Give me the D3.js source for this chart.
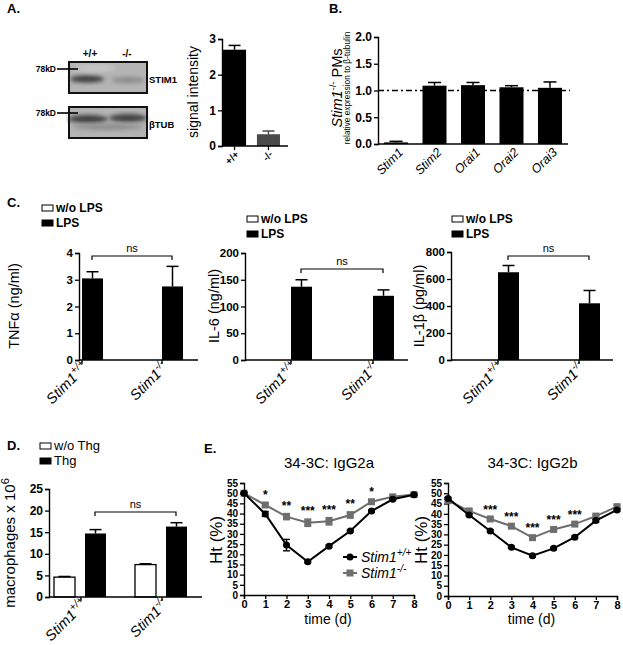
<!DOCTYPE html>
<html><head><meta charset="utf-8">
<script src="https://cdn.jsdelivr.net/npm/d3@7"></script>
<style>
body{margin:0;background:#fff;}
svg text{font-family:"Liberation Sans",Arial,sans-serif;fill:#000;}
</style></head><body>
<svg id="c" width="623" height="645" xmlns="http://www.w3.org/2000/svg"></svg>
<script>
// ---------------- DATA ----------------
const blotLanes = ["+/+", "-/-"];
const signalIntensity = [2.7, 0.33];
const signalErr = [0.12, 0.09];

const genes = ["Stim1", "Stim2", "Orai1", "Orai2", "Orai3"];
const geneExpr = [0.03, 1.09, 1.10, 1.06, 1.05];
const geneErr = [0.02, 0.06, 0.05, 0.03, 0.11];
const geneRef = 1.0;

const genotypes = ["+/+", "-/-"];
const tnfNoLPS = [0, 0];
const tnfLPS = [3.05, 2.75];
const tnfErr = [0.25, 0.75];
const il6NoLPS = [0, 0];
const il6LPS = [137, 120];
const il6Err = [13, 11];
const il1bNoLPS = [0, 0];
const il1bLPS = [650, 420];
const il1bErr = [50, 95];

const macroNoThg = [4.6, 7.5];
const macroNoThgErr = [0.15, 0.2];
const macroThg = [14.7, 16.3];
const macroThgErr = [0.9, 0.9];

const days = [0, 1, 2, 3, 4, 5, 6, 7, 8];
const igg2aWT = [50, 39.8, 24.5, 16.3, 24, 31.4, 41.2, 47, 49.2];
const igg2aWTErr = [0.4, 1.2, 2.8, 0.5, 0.5, 0.5, 0.5, 0.5, 0.4];
const igg2aKO = [50, 44.2, 38.5, 35.5, 36.2, 39.3, 45.8, 48.2, 49.3];
const igg2aKOErr = [0.5, 1.0, 1.5, 1.8, 1.8, 1.5, 1.0, 0.6, 0.5];
const igg2aStars = ["", "*", "**", "***", "***", "**", "*", "", ""];

const igg2bWT = [47.5, 39.4, 31.6, 23.7, 19.6, 23.2, 28.6, 36.7, 41.9];
const igg2bWTErr = [0.5, 0.6, 0.6, 0.6, 0.6, 0.6, 0.6, 0.6, 0.6];
const igg2bKO = [46.4, 41.4, 37.5, 34, 28.4, 32.4, 35, 38.9, 43.5];
const igg2bKOErr = [0.6, 0.6, 0.6, 0.6, 0.6, 0.6, 0.6, 0.6, 0.6];
const igg2bStars = ["", "", "***", "***", "***", "***", "***", "", ""];

const htTicks = [0, 5, 10, 15, 20, 25, 30, 35, 40, 45, 50, 55];

// ---------------- HELPERS ----------------
const svg = d3.select("#c");
const defs = svg.append("defs");
defs.append("filter").attr("id", "blur").attr("x", "-20%").attr("y", "-50%").attr("width", "140%").attr("height", "200%")
  .append("feGaussianBlur").attr("stdDeviation", 2.2);

function yAxis(x, scale, ticks, fmt, fs) {
  const g = svg.append("g").attr("transform", `translate(${x},0)`)
    .call(d3.axisLeft(scale).tickValues(ticks).tickSize(4).tickPadding(2).tickFormat(fmt || d3.format("")));
  g.select(".domain").attr("stroke", "#000").attr("stroke-width", 1.4);
  g.selectAll(".tick line").attr("stroke", "#000").attr("stroke-width", 1.3);
  g.selectAll(".tick text").attr("font-size", fs || 12).attr("font-weight", "bold")
    .attr("font-family", '"Liberation Sans",Arial,sans-serif').attr("fill", "#000");
  return g;
}
function xBase(x0, x1, y) {
  svg.append("line").attr("x1", x0).attr("x2", x1).attr("y1", y).attr("y2", y)
    .attr("stroke", "#000").attr("stroke-width", 1.4);
}
function xTick(x, y) {
  svg.append("line").attr("x1", x).attr("x2", x).attr("y1", y).attr("y2", y + 4)
    .attr("stroke", "#000").attr("stroke-width", 1.3);
}
function errUp(cx, yTop, yErr, cap, color) {
  const g = svg.append("g").attr("stroke", color || "#000").attr("stroke-width", 1.5);
  g.append("line").attr("x1", cx).attr("x2", cx).attr("y1", yTop).attr("y2", yErr);
  g.append("line").attr("x1", cx - cap / 2).attr("x2", cx + cap / 2).attr("y1", yErr).attr("y2", yErr);
}
function errBoth(cx, yLo, yHi, cap, color) {
  const g = svg.append("g").attr("stroke", color).attr("stroke-width", 1.4);
  g.append("line").attr("x1", cx).attr("x2", cx).attr("y1", yLo).attr("y2", yHi);
  g.append("line").attr("x1", cx - cap / 2).attr("x2", cx + cap / 2).attr("y1", yHi).attr("y2", yHi);
  g.append("line").attr("x1", cx - cap / 2).attr("x2", cx + cap / 2).attr("y1", yLo).attr("y2", yLo);
}
function yTitle(x, y, fs, build, weight) {
  const t = svg.append("text").attr("transform", `translate(${x},${y}) rotate(-90)`)
    .attr("text-anchor", "middle").attr("font-size", fs).attr("font-weight", weight || "normal");
  build(t);
  return t;
}
function stimLabel(x, y, sup, fs) {
  const t = svg.append("text").attr("transform", `translate(${x},${y}) rotate(-45)`)
    .attr("text-anchor", "end").attr("font-size", fs).attr("font-style", "italic");
  t.append("tspan").text("Stim1");
  t.append("tspan").attr("dy", -6).attr("font-size", fs * 0.72).text(sup);
}
function panelLetter(x, y, s) {
  svg.append("text").attr("x", x).attr("y", y).attr("font-size", 13).attr("font-weight", "bold").text(s);
}
function bracket(x1, x2, y, label) {
  svg.append("path").attr("d", `M${x1},${y + 4}V${y}H${x2}V${y + 4}`)
    .attr("fill", "none").attr("stroke", "#000").attr("stroke-width", 1.2);
  svg.append("text").attr("x", (x1 + x2) / 2).attr("y", y - 4).attr("text-anchor", "middle")
    .attr("font-size", 11).text(label);
}
function legendBox(x, y, fill, label, fs, weight) {
  svg.append("rect").attr("x", x).attr("y", y).attr("width", 11).attr("height", 6)
    .attr("fill", fill).attr("stroke", "#000").attr("stroke-width", 1);
  svg.append("text").attr("x", x + 14).attr("y", y + 7).attr("font-size", fs)
    .attr("font-weight", weight || "bold").text(label);
}

// ---------------- PANEL A ----------------
panelLetter(7, 13, "A.");
function blot(y, bands) {
  const g = svg.append("g");
  g.append("rect").attr("x", 69).attr("y", y).attr("width", 78).attr("height", 31).attr("fill", "#b4b4b4");
  bands.forEach(b => {
    g.append("ellipse").attr("cx", b[0]).attr("cy", y + b[1]).attr("rx", b[2]).attr("ry", b[3])
      .attr("fill", b[4]).attr("filter", "url(#blur)");
  });
  g.append("rect").attr("x", 69).attr("y", y).attr("width", 78).attr("height", 31)
    .attr("fill", "none").attr("stroke", "#111").attr("stroke-width", 2);
}
blot(62, [[87, 17, 17, 3.5, "#3a3a3a"], [128, 18, 17, 3, "#8a8a8a"], [95, 6, 20, 4, "#c6c6c6"]]);
blot(107, [[88, 12, 20, 4, "#3c3c3c"], [128, 11, 19, 4, "#404040"], [108, 20, 36, 3, "#8c8c8c"]]);
svg.append("text").attr("x", 90).attr("y", 57).attr("text-anchor", "middle").attr("font-size", 10).attr("font-weight", "bold").text("+/+");
svg.append("text").attr("x", 127).attr("y", 57).attr("text-anchor", "middle").attr("font-size", 10).attr("font-weight", "bold").text("-/-");
[69, 113].forEach(yy => {
  svg.append("text").attr("x", 56).attr("y", yy + 3).attr("text-anchor", "end").attr("font-size", 8.5).attr("font-weight", "bold").text("78kD");
  svg.append("line").attr("x1", 57).attr("x2", 78).attr("y1", yy).attr("y2", yy).attr("stroke", "#000").attr("stroke-width", 1.6);
});
svg.append("text").attr("x", 149).attr("y", 83).attr("font-size", 9.5).attr("font-weight", "bold").text("STIM1");
svg.append("text").attr("x", 149).attr("y", 128).attr("font-size", 9.5).attr("font-weight", "bold").text("βTUB");

const yA = d3.scaleLinear().domain([0, 3]).range([146, 39]);
const xA = d3.scaleBand().domain(blotLanes).range([222, 281]).paddingInner(0.32).paddingOuter(0.03);
const colA = ["#000", "#4a4a4a"];
blotLanes.forEach((l, i) => {
  svg.append("rect").attr("x", xA(l)).attr("y", yA(signalIntensity[i])).attr("width", xA.bandwidth())
    .attr("height", yA(0) - yA(signalIntensity[i])).attr("fill", colA[i]);
  errUp(xA(l) + xA.bandwidth() / 2, yA(signalIntensity[i]), yA(signalIntensity[i] + signalErr[i]), 12, colA[i]);
  xTick(xA(l) + xA.bandwidth() / 2, 146);
  svg.append("text").attr("transform", `translate(${xA(l) + xA.bandwidth() / 2 + 5},${155}) rotate(-45)`)
    .attr("text-anchor", "end").attr("font-size", 10).attr("font-weight", "bold").text(l);
});
xBase(222, 288, 146);
yAxis(222, yA, [0, 1, 2, 3], d3.format("d"), 12);
yTitle(198, 92, 14, t => t.text("signal intensity"));

// ---------------- PANEL B ----------------
panelLetter(329, 13, "B.");
const yB = d3.scaleLinear().domain([0, 2]).range([144, 37]);
const xB = d3.scalePoint().domain(genes).range([378, 568]).padding(0.468);
const bwB = 24;
genes.forEach((gn, i) => {
  const cx = xB(gn);
  svg.append("rect").attr("x", cx - bwB / 2).attr("y", yB(geneExpr[i])).attr("width", bwB)
    .attr("height", yB(0) - yB(geneExpr[i])).attr("fill", "#000");
  errUp(cx, yB(geneExpr[i]), yB(geneExpr[i] + geneErr[i]), 13);
  svg.append("text").attr("transform", `translate(${cx + 8},${153}) rotate(-45)`)
    .attr("text-anchor", "end").attr("font-size", 12.5).attr("font-style", "italic").text(gn);
});
svg.append("line").attr("x1", 378).attr("x2", 570).attr("y1", yB(geneRef)).attr("y2", yB(geneRef))
  .attr("stroke", "#000").attr("stroke-width", 1.4).attr("stroke-dasharray", "6,3,2,3");
xBase(378, 568, 144);
yAxis(378, yB, [0, 0.5, 1, 1.5, 2], d3.format(".1f"), 12);
yTitle(342, 88, 14.5, t => {
  t.append("tspan").attr("font-style", "italic").text("Stim1");
  t.append("tspan").attr("dy", -6).attr("font-size", 9.5).text("-/-");
  t.append("tspan").attr("dy", 6).text(" PMs");
});
yTitle(350, 88, 8.3, t => t.text("relative expression to β-tubulin"));

// ---------------- PANEL C ----------------
panelLetter(7, 207, "C.");
function cytoPanel(cfg) {
  const y = d3.scaleLinear().domain([0, cfg.max]).range([360, cfg.top]);
  const x = d3.scalePoint().domain(genotypes).range(cfg.ticks);
  genotypes.forEach((gt, i) => {
    const tx = x(gt);
    if (cfg.noLps[i] > 0) {
      svg.append("rect").attr("x", tx - 21).attr("y", y(cfg.noLps[i])).attr("width", 20)
        .attr("height", 360 - y(cfg.noLps[i])).attr("fill", "#fff").attr("stroke", "#000");
    }
    svg.append("rect").attr("x", tx).attr("y", y(cfg.lps[i])).attr("width", 21)
      .attr("height", 360 - y(cfg.lps[i])).attr("fill", "#000");
    errUp(tx + 10.5, y(cfg.lps[i]), y(cfg.lps[i] + cfg.err[i]), 12);
    xTick(tx, 360);
    stimLabel(tx + 7, 368, gt, 14.5);
  });
  xBase(cfg.ax, cfg.axEnd, 360);
  yAxis(cfg.ax, y, cfg.yticks, d3.format("d"), 11.5);
  bracket(x(genotypes[0]) + 10, x(genotypes[1]) + 10, cfg.brY, "ns");
  legendBox(cfg.lx, cfg.ly, "#fff", "w/o LPS", 12);
  legendBox(cfg.lx, cfg.ly + 15, "#000", "LPS", 12);
  yTitle(cfg.tx, 306, 14.5, t => t.text(cfg.title));
}
cytoPanel({ max: 4, top: 253, ticks: [82, 162], noLps: tnfNoLPS, lps: tnfLPS, err: tnfErr,
  ax: 79, axEnd: 198, yticks: [0, 1, 2, 3, 4], brY: 256, lx: 42, ly: 205, tx: 19, title: "TNFα (ng/ml)" });
cytoPanel({ max: 200, top: 253, ticks: [291, 373], noLps: il6NoLPS, lps: il6LPS, err: il6Err,
  ax: 245, axEnd: 408, yticks: [0, 50, 100, 150, 200], brY: 269, lx: 247, ly: 216, tx: 219, title: "IL-6 (ng/ml)" });
cytoPanel({ max: 800, top: 252, ticks: [498, 579], noLps: il1bNoLPS, lps: il1bLPS, err: il1bErr,
  ax: 451, axEnd: 613, yticks: [0, 200, 400, 600, 800], brY: 256, lx: 452, ly: 216, tx: 424, title: "IL-1β (pg/ml)" });

// ---------------- PANEL D ----------------
panelLetter(7, 450, "D.");
const yD = d3.scaleLinear().domain([0, 25]).range([597, 489]);
const xD = d3.scalePoint().domain(genotypes).range([81, 162]);
genotypes.forEach((gt, i) => {
  const c = xD(gt);
  svg.append("rect").attr("x", c - 27).attr("y", yD(macroNoThg[i])).attr("width", 21)
    .attr("height", 597 - yD(macroNoThg[i])).attr("fill", "#fff").attr("stroke", "#000").attr("stroke-width", 1.3);
  errUp(c - 16.5, yD(macroNoThg[i]), yD(macroNoThg[i] + macroNoThgErr[i]), 12);
  svg.append("rect").attr("x", c + 4).attr("y", yD(macroThg[i])).attr("width", 21)
    .attr("height", 597 - yD(macroThg[i])).attr("fill", "#000");
  errUp(c + 14.5, yD(macroThg[i]), yD(macroThg[i] + macroThgErr[i]), 12);
  xTick(c, 597);
  stimLabel(c + 7, 605, gt, 14.5);
});
xBase(49, 202, 597);
yAxis(49, yD, [0, 5, 10, 15, 20, 25], d3.format("d"), 12);
bracket(xD(genotypes[0]) + 14, xD(genotypes[1]) + 14, 512, "ns");
legendBox(40, 443, "#fff", "w/o Thg", 13, "normal");
legendBox(40, 458, "#000", "Thg", 13, "normal");
yTitle(15, 543, 15, t => {
  t.append("tspan").text("macrophages x 10");
  t.append("tspan").attr("dy", -6).attr("font-size", 11).text("6");
});

// ---------------- PANEL E ----------------
panelLetter(204, 453, "E.");
function htPanel(cfg) {
  const x = d3.scaleLinear().domain([0, 8]).range([cfg.x0, cfg.x1]);
  const y = d3.scaleLinear().domain([0, 55]).range([cfg.y0, 483]);
  const gx = svg.append("g").attr("transform", `translate(0,${cfg.y0})`)
    .call(d3.axisBottom(x).tickValues(days).tickSize(4).tickPadding(1).tickFormat(d3.format("d")));
  gx.select(".domain").attr("stroke", "#000").attr("stroke-width", 1.4);
  gx.selectAll(".tick line").attr("stroke", "#000").attr("stroke-width", 1.3);
  gx.selectAll(".tick text").attr("font-size", 11).attr("font-weight", "bold")
    .attr("font-family", '"Liberation Sans",Arial,sans-serif').attr("fill", "#000");
  yAxis(cfg.x0, y, htTicks, d3.format("d"), 10);
  const line = d3.line().x((d, i) => x(days[i])).y(d => y(d));
  svg.append("path").attr("d", line(cfg.ko)).attr("fill", "none").attr("stroke", "#6e6e6e").attr("stroke-width", 2);
  cfg.ko.forEach((v, i) => {
    errBoth(x(days[i]), y(v - cfg.koErr[i]), y(v + cfg.koErr[i]), 7, "#6e6e6e");
    svg.append("rect").attr("x", x(days[i]) - 3.5).attr("y", y(v) - 3.5).attr("width", 7).attr("height", 7).attr("fill", "#6e6e6e");
  });
  svg.append("path").attr("d", line(cfg.wt)).attr("fill", "none").attr("stroke", "#000").attr("stroke-width", 2);
  cfg.wt.forEach((v, i) => {
    errBoth(x(days[i]), y(v - cfg.wtErr[i]), y(v + cfg.wtErr[i]), 7, "#000");
    svg.append("circle").attr("cx", x(days[i])).attr("cy", y(v)).attr("r", 3.5).attr("fill", "#000");
  });
  cfg.stars.forEach((s, i) => {
    if (!s) return;
    svg.append("text").attr("x", x(days[i])).attr("y", y(cfg.ko[i] + cfg.koErr[i]) - 4)
      .attr("text-anchor", "middle").attr("font-size", 12).attr("font-weight", "bold").text(s);
  });
  svg.append("text").attr("x", (cfg.x0 + cfg.x1) / 2).attr("y", 468).attr("text-anchor", "middle")
    .attr("font-size", 15).text(cfg.title);
  svg.append("text").attr("x", (cfg.x0 + cfg.x1) / 2 - 1).attr("y", 624).attr("text-anchor", "middle")
    .attr("font-size", 14).text("time (d)");
  yTitle(cfg.tx, 540, 17, t => t.text("Ht (%)"));
}
htPanel({ x0: 244, x1: 414, y0: 595, wt: igg2aWT, wtErr: igg2aWTErr, ko: igg2aKO, koErr: igg2aKOErr,
  stars: igg2aStars, title: "34-3C: IgG2a", tx: 222 });
htPanel({ x0: 448, x1: 617, y0: 596, wt: igg2bWT, wtErr: igg2bWTErr, ko: igg2bKO, koErr: igg2bKOErr,
  stars: igg2bStars, title: "34-3C: IgG2b", tx: 427 });

function htLegend(y, color, shape, sup) {
  svg.append("line").attr("x1", 343).attr("x2", 357).attr("y1", y).attr("y2", y).attr("stroke", color).attr("stroke-width", 2);
  if (shape === "c") svg.append("circle").attr("cx", 350).attr("cy", y).attr("r", 3.5).attr("fill", color);
  else svg.append("rect").attr("x", 346.5).attr("y", y - 3.5).attr("width", 7).attr("height", 7).attr("fill", color);
  const t = svg.append("text").attr("x", 361).attr("y", y + 5).attr("font-size", 14).attr("font-style", "italic");
  t.append("tspan").text("Stim1");
  t.append("tspan").attr("dy", -6).attr("font-size", 10).text(sup);
}
htLegend(557, "#000", "c", "+/+");
htLegend(573, "#6e6e6e", "s", "-/-");
</script>
</body></html>
